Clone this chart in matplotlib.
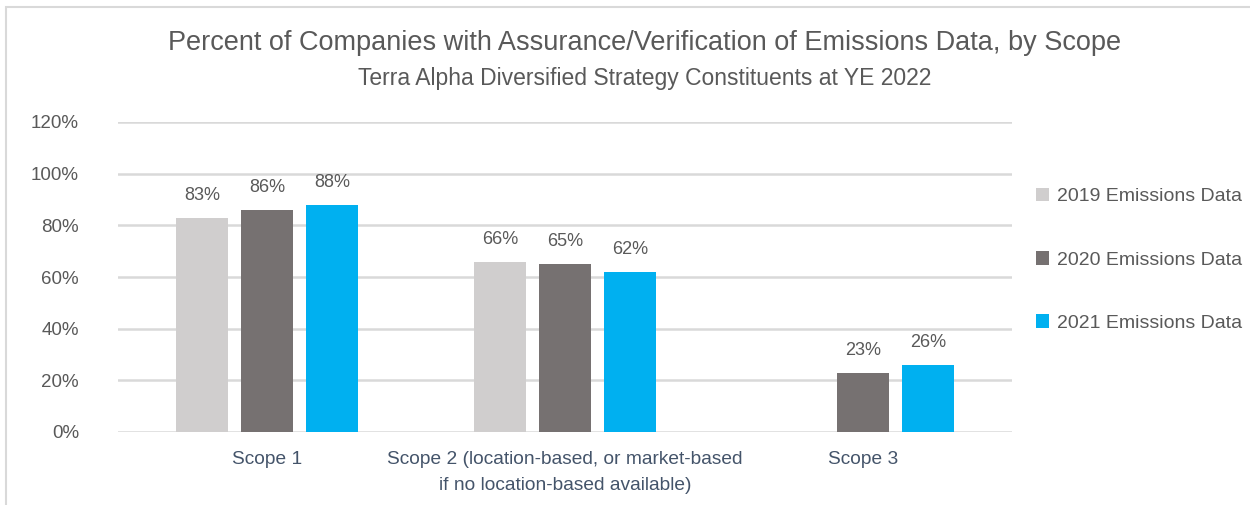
import matplotlib
matplotlib.use("Agg")
import matplotlib.pyplot as plt
import matplotlib.patches as mpatches
import numpy as np

categories = ["Scope 1", "Scope 2 (location-based, or market-based\nif no location-based available)", "Scope 3"]
series_names = ["2019 Emissions Data", "2020 Emissions Data", "2021 Emissions Data"]
v2019 = [83, 66, None]
v2020 = [86, 65, 23]
v2021 = [88, 62, 26]
yticks = [0, 20, 40, 60, 80, 100, 120]
colors = ["#D0CECE", "#767171", "#00B0F0"]

plt.rcParams['font.family'] = ['Liberation Sans', 'DejaVu Sans']
txt = "#595959"

fig = plt.figure(figsize=(12.5, 5.05), dpi=100)
ax = fig.add_axes([118/1250, 1-432/505, (1012-118)/1250, (432-122)/505])

# border
fig.add_artist(mpatches.Rectangle((6/1250, -0.05), 1.1, 1-7/505+0.05, transform=fig.transFigure,
                                  fill=False, edgecolor="#D9D9D9", linewidth=1.5))

x = np.arange(len(categories))
pitch = 0.218
width = 0.175
for i, (vals, name, c) in enumerate(zip([v2019, v2020, v2021], series_names, colors)):
    xs, hs = [], []
    for j, v in enumerate(vals):
        if v is not None:
            xs.append(x[j] + (i - 1) * pitch)
            hs.append(v)
    bars = ax.bar(xs, hs, width=width, color=c, label=name, zorder=3)
    for b, h in zip(bars, hs):
        ax.annotate(f"{h}%", (b.get_x() + b.get_width()/2, h), xytext=(0, 10),
                    textcoords="offset points", ha="center", va="bottom",
                    fontsize=13, color=txt)

ax.set_xlim(-0.5, 2.5)
ax.set_ylim(0, 120)
ax.set_yticks(yticks)
ax.set_yticklabels([f"{t}%" for t in yticks], fontsize=13.5, color=txt)
ax.set_xticks(x)
ax.set_xticklabels(categories, fontsize=13.8, color="#44546A", linespacing=1.65)
ax.tick_params(axis='both', length=0)
ax.tick_params(axis='y', pad=28)
ax.tick_params(axis='x', pad=14)
ax.grid(axis='y', color="#D9D9D9", linewidth=1.8, zorder=0)
for s in ax.spines.values():
    s.set_visible(False)

fig.text(0.516, 1-43/505, "Percent of Companies with Assurance/Verification of Emissions Data, by Scope",
         ha="center", va="center", fontsize=19.5, color=txt)
fig.text(0.516, 1-79/505, "Terra Alpha Diversified Strategy Constituents at YE 2022",
         ha="center", va="center", fontsize=16.5, color=txt)

leg = fig.legend(loc="upper left", bbox_to_anchor=(1028/1250, 1-180/505), frameon=False,
                 fontsize=14, labelcolor=txt, handlelength=0.7, handleheight=0.7,
                 handletextpad=0.4, labelspacing=2.35, borderaxespad=0)

fig.savefig("out.png", dpi=100)
